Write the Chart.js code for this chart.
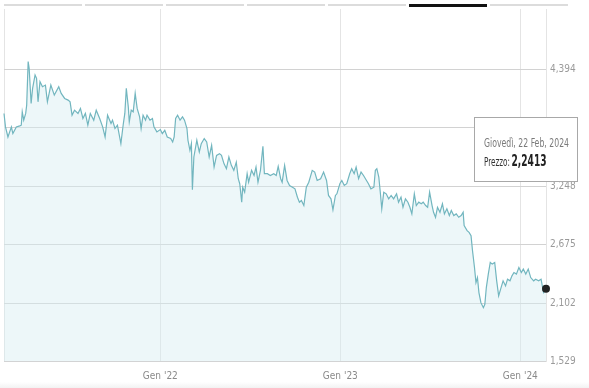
<!DOCTYPE html>
<html>
<head>
<meta charset="utf-8">
<script src="https://cdn.jsdelivr.net/npm/chart.js@4/dist/chart.umd.min.js"></script>
<style>
    html, body { margin: 0; padding: 0; }
    body {
        width: 589px; height: 388px; overflow: hidden; position: relative;
        background: linear-gradient(to bottom, #ffffff 382px, #f2f2f2 388px);
    }
    #tabs { position: absolute; left: 4px; top: 4px; display: flex; gap: 3px; }
    #tabs div { width: 78px; height: 2px; background: #dcdcdc; }
    #tabs div.on { background: #111; height: 3px; margin-top: -0.5px; }
    canvas { position: absolute; left: 0; top: 0; }
</style>
</head>
<body>
<div id="tabs"><div></div><div></div><div></div><div></div><div></div><div class="on"></div><div></div></div>
<canvas id="priceChart" width="589" height="388"></canvas>
<script>
// prezzo giornaliero
const dates = [
    '2021-02-18','2021-02-21','2021-02-26','2021-03-05','2021-03-08','2021-03-15','2021-03-22','2021-03-25','2021-03-27','2021-03-30',
    '2021-04-03','2021-04-05','2021-04-08','2021-04-10','2021-04-14','2021-04-17','2021-04-22','2021-04-25','2021-04-28','2021-05-02',
    '2021-05-07','2021-05-13','2021-05-17','2021-05-24','2021-05-31','2021-06-09','2021-06-14','2021-06-21','2021-06-28','2021-07-02',
    '2021-07-06','2021-07-11','2021-07-18','2021-07-23','2021-07-28','2021-08-02','2021-08-07','2021-08-12','2021-08-19','2021-08-24',
    '2021-08-31','2021-09-06','2021-09-11','2021-09-16','2021-09-23','2021-09-26','2021-10-01','2021-10-06','2021-10-13','2021-10-18',
    '2021-10-21','2021-10-24','2021-10-28','2021-10-30','2021-11-03','2021-11-07','2021-11-11','2021-11-15','2021-11-20','2021-11-23',
    '2021-11-27','2021-12-02','2021-12-05','2021-12-11','2021-12-16','2021-12-19','2021-12-25','2022-01-01','2022-01-05','2022-01-10',
    '2022-01-15','2022-01-22','2022-01-26','2022-01-29','2022-02-01','2022-02-05','2022-02-10','2022-02-15','2022-02-19','2022-02-24',
    '2022-02-26','2022-03-02','2022-03-05','2022-03-07','2022-03-10','2022-03-16','2022-03-21','2022-03-25','2022-03-31','2022-04-05',
    '2022-04-10','2022-04-15','2022-04-20','2022-04-25','2022-05-01','2022-05-05','2022-05-10','2022-05-15','2022-05-20','2022-05-25',
    '2022-05-30','2022-06-04','2022-06-08','2022-06-11','2022-06-15','2022-06-17','2022-06-21','2022-06-26','2022-06-29','2022-07-05',
    '2022-07-10','2022-07-14','2022-07-18','2022-07-23','2022-07-28','2022-07-31','2022-08-06','2022-08-12','2022-08-19','2022-08-24',
    '2022-08-28','2022-09-02','2022-09-05','2022-09-10','2022-09-15','2022-09-20','2022-09-26','2022-10-01','2022-10-06','2022-10-10',
    '2022-10-14','2022-10-19','2022-10-24','2022-10-29','2022-11-05','2022-11-10','2022-11-15','2022-11-22','2022-11-28','2022-12-04',
    '2022-12-08','2022-12-13','2022-12-17','2022-12-22','2022-12-25','2022-12-31','2023-01-04','2023-01-09','2023-01-14','2023-01-20',
    '2023-01-24','2023-01-29','2023-02-02','2023-02-07','2023-02-12','2023-02-17','2023-02-23','2023-02-27','2023-03-04','2023-03-10',
    '2023-03-13','2023-03-16','2023-03-20','2023-03-23','2023-03-26','2023-03-30','2023-04-04','2023-04-09','2023-04-14','2023-04-19',
    '2023-04-25','2023-04-29','2023-05-04','2023-05-08','2023-05-13','2023-05-18','2023-05-22','2023-05-26','2023-05-31','2023-06-04',
    '2023-06-09','2023-06-14','2023-06-18','2023-06-23','2023-06-27','2023-07-01','2023-07-06','2023-07-09','2023-07-13','2023-07-17',
    '2023-07-22','2023-07-27','2023-07-31','2023-08-05','2023-08-10','2023-08-14','2023-08-19','2023-08-24','2023-08-29','2023-09-03',
    '2023-09-07','2023-09-09','2023-09-15','2023-09-19','2023-09-23','2023-09-26','2023-09-30','2023-10-03','2023-10-06','2023-10-09',
    '2023-10-13','2023-10-18','2023-10-21','2023-10-24','2023-10-28','2023-11-01','2023-11-05','2023-11-10','2023-11-14','2023-11-18',
    '2023-11-22','2023-11-27','2023-12-02','2023-12-06','2023-12-11','2023-12-15','2023-12-19','2023-12-24','2023-12-29','2024-01-03',
    '2024-01-07','2024-01-12','2024-01-17','2024-01-22','2024-01-28','2024-02-01','2024-02-07','2024-02-12','2024-02-17','2024-02-22'
];
const prices = [
    3.961, 3.829, 3.730, 3.829, 3.764, 3.829, 3.839, 3.846, 3.977, 3.895,
    3.961, 4.043, 4.469, 4.404, 4.059, 4.207, 4.338, 4.305, 4.075, 4.272,
    4.223, 4.239, 4.075, 4.239, 4.141, 4.223, 4.158, 4.108, 4.092, 4.075,
    3.944, 3.993, 3.961, 4.010, 3.912, 3.961, 3.846, 3.961, 3.895, 3.993,
    3.912, 3.829, 3.730, 3.944, 3.862, 3.895, 3.813, 3.846, 3.665, 3.862,
    3.961, 4.207, 4.026, 3.878, 3.993, 3.977, 4.158, 4.010, 3.927, 3.813,
    3.944, 3.895, 3.944, 3.895, 3.912, 3.829, 3.780, 3.803, 3.764, 3.796,
    3.730, 3.715, 3.681, 3.730, 3.912, 3.944, 3.895, 3.927, 3.895, 3.813,
    3.698, 3.599, 3.665, 3.213, 3.534, 3.698, 3.583, 3.665, 3.715, 3.681,
    3.534, 3.649, 3.435, 3.550, 3.567, 3.550, 3.469, 3.419, 3.534, 3.452,
    3.403, 3.484, 3.321, 3.272, 3.091, 3.238, 3.189, 3.370, 3.287, 3.403,
    3.353, 3.435, 3.287, 3.403, 3.639, 3.370, 3.370, 3.353, 3.370, 3.353,
    3.442, 3.321, 3.287, 3.452, 3.304, 3.255, 3.238, 3.222, 3.140, 3.091,
    3.107, 3.058, 3.238, 3.287, 3.403, 3.386, 3.304, 3.321, 3.386, 3.304,
    3.157, 3.124, 3.016, 3.157, 3.173, 3.272, 3.304, 3.255, 3.272, 3.370,
    3.419, 3.370, 3.435, 3.321, 3.386, 3.353, 3.304, 3.272, 3.222, 3.238,
    3.403, 3.419, 3.337, 3.189, 3.026, 3.189, 3.173, 3.124, 3.157, 3.124,
    3.173, 3.091, 3.140, 3.041, 3.124, 3.091, 3.041, 2.976, 3.173, 3.058,
    3.091, 3.075, 3.091, 3.058, 3.041, 3.189, 3.058, 2.992, 2.943, 3.041,
    2.992, 3.075, 2.976, 3.026, 2.960, 3.009, 2.960, 2.976, 2.943, 2.960,
    2.992, 2.861, 2.812, 2.795, 2.763, 2.615, 2.451, 2.303, 2.352, 2.205,
    2.106, 2.057, 2.090, 2.254, 2.386, 2.500, 2.484, 2.500, 2.320, 2.172,
    2.238, 2.320, 2.270, 2.336, 2.320, 2.369, 2.401, 2.386, 2.451, 2.401,
    2.435, 2.386, 2.435, 2.352, 2.320, 2.336, 2.320, 2.336, 2.205, 2.2413
];

const yTicks = [1.529, 2.102, 2.675, 3.248, 3.821, 4.394];
const yMin = 1.529;
const yMax = 4.985;

const xTickDates = ['2022-01-01', '2023-01-01', '2024-01-01'];
const xTickLabels = ["Gen '22", "Gen '23", "Gen '24"];

const tipDate = 'Giovedì, 22 Feb, 2024';
const tipLabel = 'Prezzo:';
const tipValue = '2,2413';

const FONT = "'DejaVu Sans Condensed', 'DejaVu Sans', sans-serif";

function toDay(s) {
    const p = s.split('-');
    return Date.UTC(+p[0], +p[1] - 1, +p[2]) / 86400000;
}

function fmt(v) {
    return v.toFixed(3).replace('.', ',');
}

const points = dates.map((d, i) => ({ x: toDay(d), y: prices[i] }));
const firstDay = points[0].x;
const lastDay = points[points.length - 1].x;
const lastIdx = points.length - 1;

// narrow text: squeeze horizontally to the width seen in the picture
function narrowText(ctx, text, x, y, width) {
    const w = ctx.measureText(text).width;
    ctx.save();
    ctx.translate(x, y);
    ctx.scale(width / w, 1);
    ctx.fillText(text, 0, 0);
    ctx.restore();
}

const tooltipBox = {
    id: 'tooltipBox',
    afterDraw(chart) {
        const ctx = chart.ctx;
        const x = 474.5, y = 117.5, w = 103, h = 64;
        ctx.save();
        ctx.fillStyle = '#ffffff';
        ctx.fillRect(x, y, w, h);
        ctx.strokeStyle = '#a8a8a8';
        ctx.lineWidth = 1;
        ctx.strokeRect(x, y, w, h);
        ctx.textBaseline = 'alphabetic';
        ctx.textAlign = 'left';
        ctx.fillStyle = '#7a7a7a';
        ctx.font = '12px ' + FONT;
        narrowText(ctx, tipDate, 484, 146.5, 85);
        ctx.fillStyle = '#333333';
        ctx.font = '12px ' + FONT;
        narrowText(ctx, tipLabel, 484, 165.5, 26);
        ctx.fillStyle = '#222222';
        ctx.font = 'bold 15px ' + FONT;
        narrowText(ctx, tipValue, 511.5, 166, 35);
        ctx.restore();
    }
};

new Chart(document.getElementById('priceChart'), {
    type: 'line',
    data: {
        datasets: [{
            data: points,
            borderColor: '#72b6bf',
            borderWidth: 1.2,
            backgroundColor: 'rgba(214, 238, 241, 0.45)',
            fill: 'start',
            tension: 0,
            clip: false,
            pointRadius: ctx => ctx.dataIndex === lastIdx ? 4 : 0,
            pointBackgroundColor: '#222222',
            pointBorderWidth: 0,
            pointHoverRadius: 0
        }]
    },
    options: {
        responsive: false,
        devicePixelRatio: 1,
        animation: false,
        events: [],
        layout: { padding: { left: 4, top: 9, right: 0, bottom: 0 } },
        plugins: {
            legend: { display: false },
            tooltip: { enabled: false }
        },
        scales: {
            x: {
                type: 'linear',
                min: firstDay,
                max: lastDay,
                afterBuildTicks: function (scale) {
                    const t = [{ value: firstDay }];
                    xTickDates.forEach(d => t.push({ value: toDay(d) }));
                    t.push({ value: lastDay });
                    scale.ticks = t;
                },
                afterFit: function (scale) {
                    scale.height = 26.5;
                    scale.paddingLeft = 0;
                    scale.paddingRight = 0;
                },
                grid: { color: '#e4e4e4', drawTicks: false },
                border: { display: false },
                ticks: {
                    autoSkip: false,
                    maxRotation: 0,
                    padding: 9,
                    color: '#8a8a8a',
                    font: { family: FONT, size: 10 },
                    callback: function (value) {
                        const i = xTickDates.findIndex(d => toDay(d) === value);
                        return i >= 0 ? xTickLabels[i] : '';
                    }
                }
            },
            y: {
                position: 'right',
                min: yMin,
                max: yMax,
                afterBuildTicks: function (scale) {
                    scale.ticks = yTicks.map(v => ({ value: v }));
                },
                afterFit: function (scale) {
                    scale.width = 43;
                    scale.paddingTop = 0;
                    scale.paddingBottom = 0;
                },
                grid: { color: '#d2d2d2', drawTicks: false },
                border: { color: '#e4e4e4' },
                ticks: {
                    padding: 4,
                    color: '#9a9a9a',
                    font: { family: FONT, size: 10 },
                    callback: v => fmt(v)
                }
            }
        }
    },
    plugins: [tooltipBox]
});
</script>
</body>
</html>
